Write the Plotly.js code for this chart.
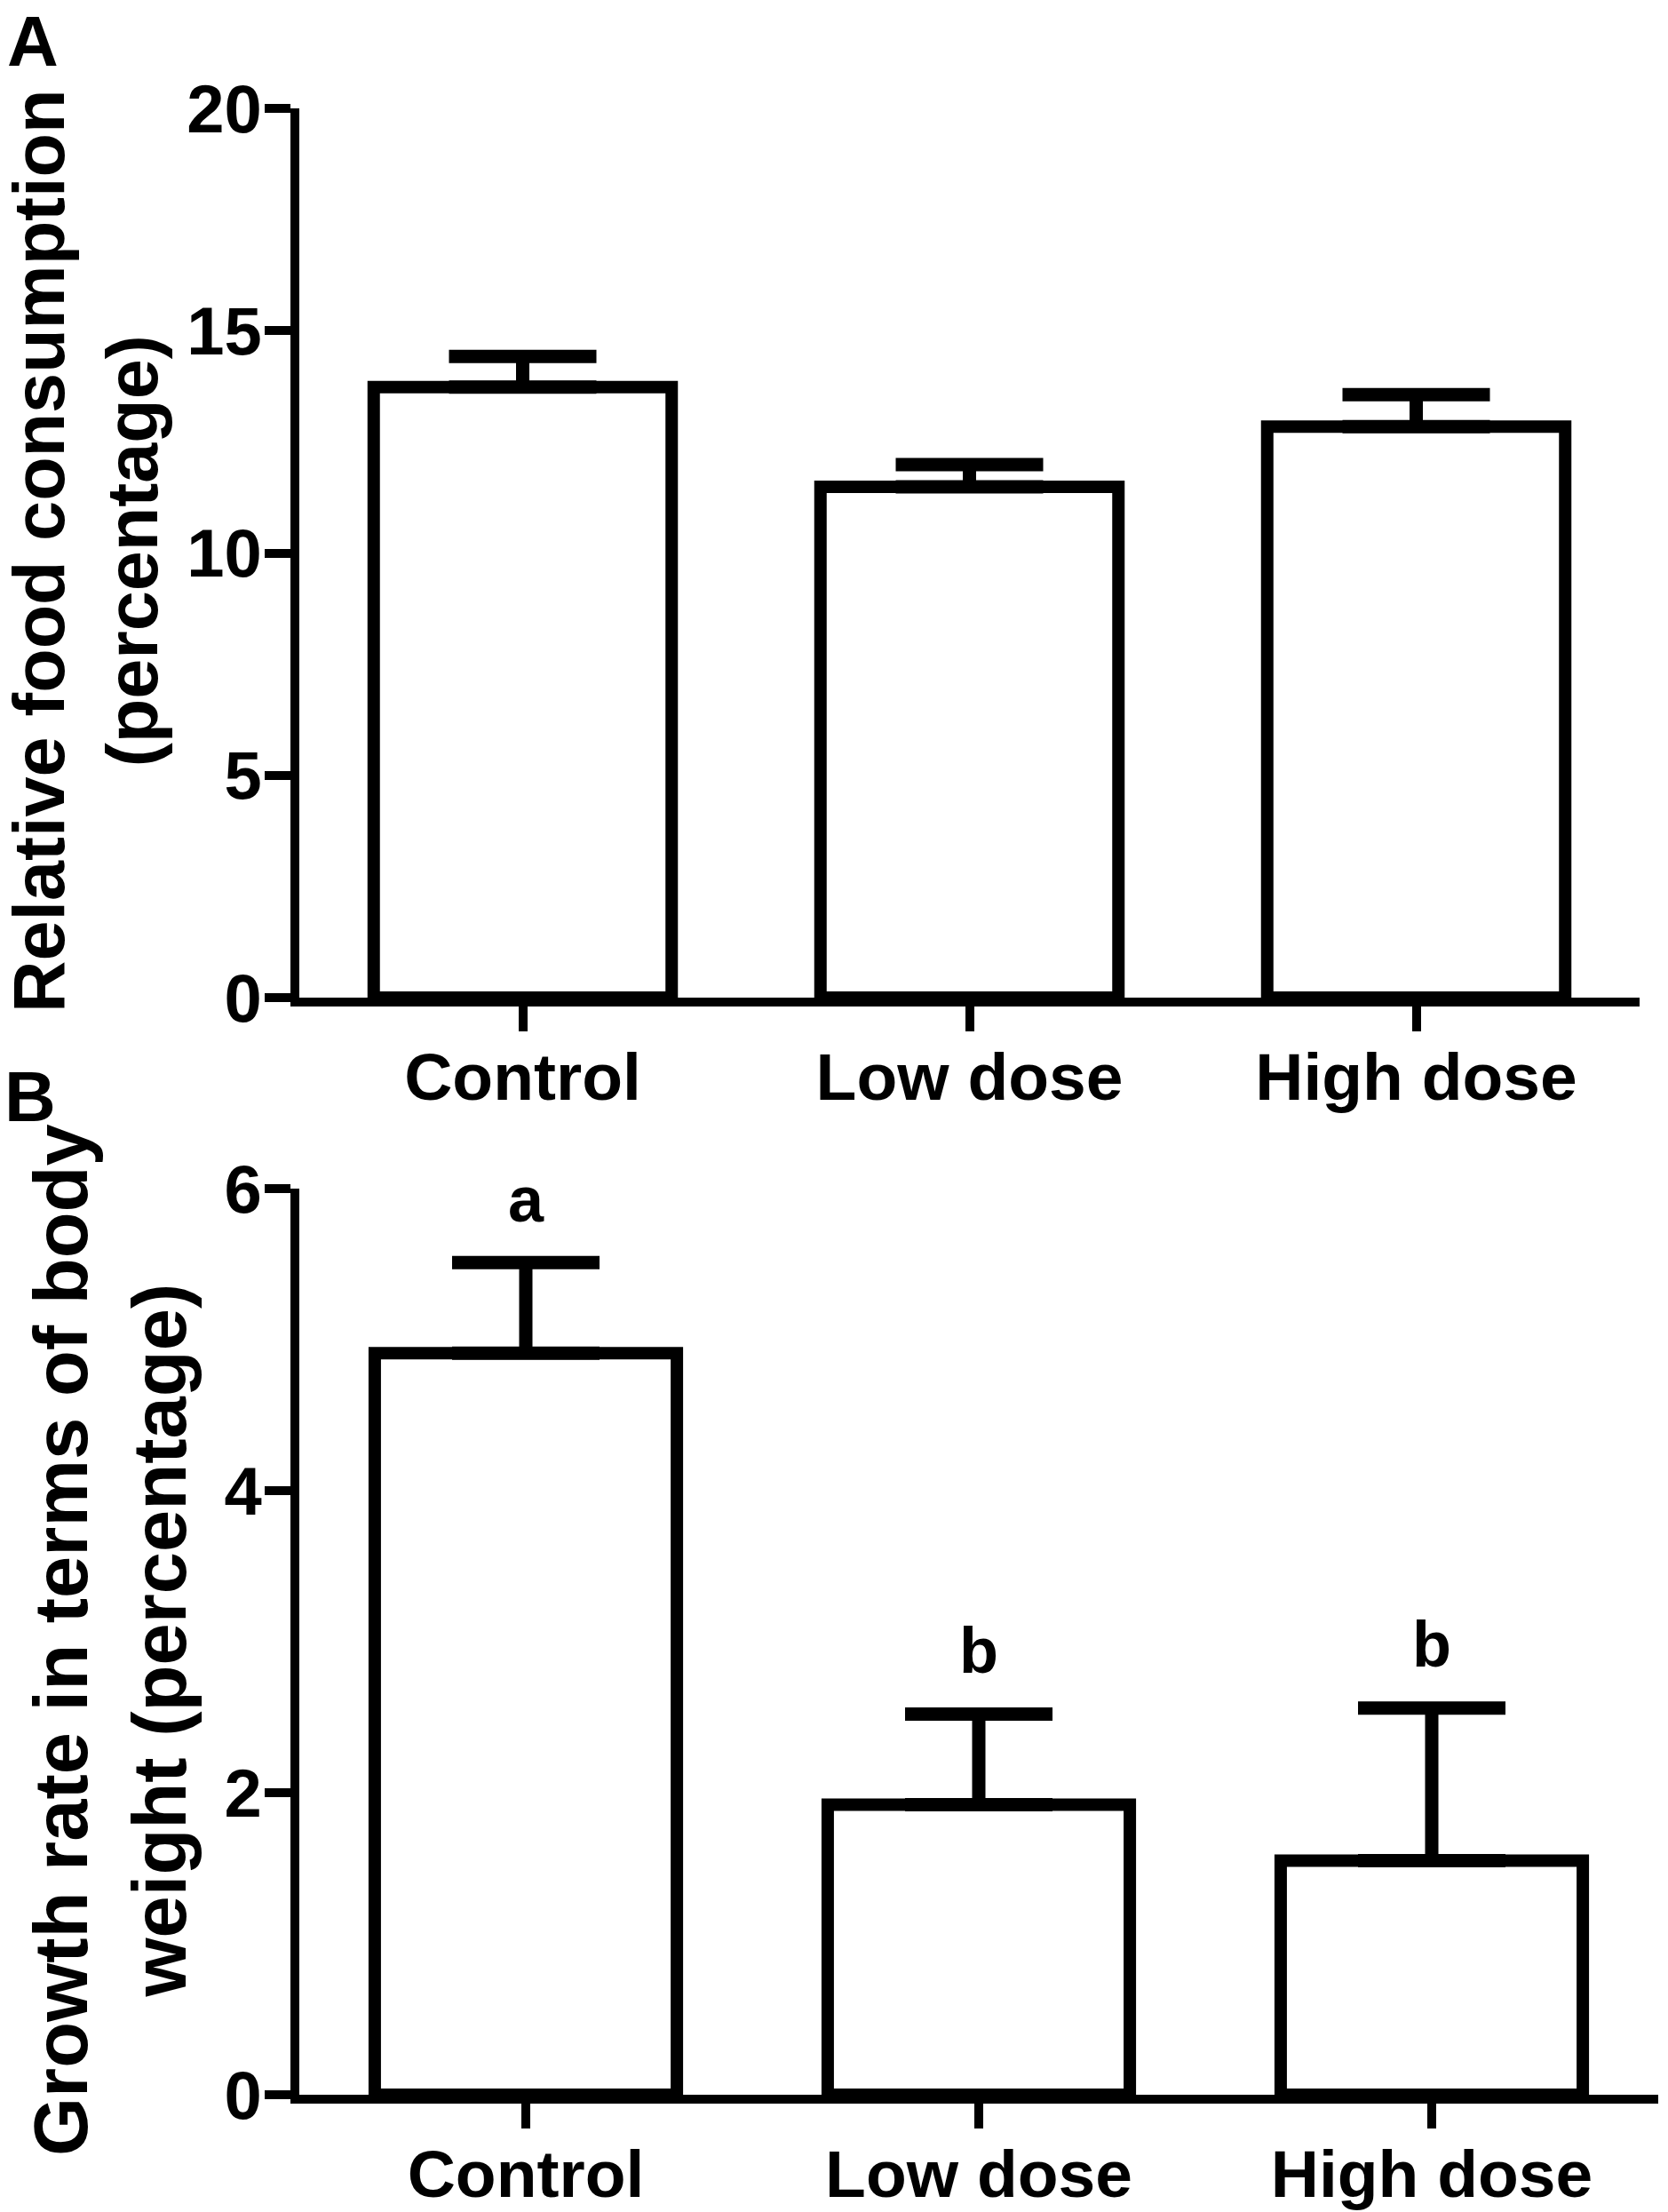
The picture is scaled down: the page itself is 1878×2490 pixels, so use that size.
<!DOCTYPE html>
<html>
<head>
<meta charset="utf-8">
<script src="https://cdn.plot.ly/plotly-3.0.1.min.js"></script>
<style>
  html, body { margin: 0; padding: 0; background: #fff; }
  #plot { width: 1878px; height: 2490px; }
</style>
</head>
<body>
<div id="plot"></div>
<script>
const groups = ["Control", "Low dose", "High dose"];

// A: relative food consumption (%)
const foodMean = [13.73, 11.49, 12.84];
const foodErr = [0.69, 0.5, 0.72];

// B: growth rate in terms of body weight (%)
const growthMean = [4.91, 1.92, 1.55];
const growthErr = [0.6, 0.6, 1.01];
const growthLetters = ["a", "b", "b"];

const W = 1878, H = 2490;
const FONT = "Liberation Sans, Arial, Helvetica, sans-serif";
const px = (x) => x / W;
const py = (y) => 1 - y / H;

function barTrace(y, err, xa, ya) {
  return {
    type: "bar",
    x: groups,
    y: y,
    xaxis: xa,
    yaxis: ya,
    width: 0.667,
    marker: { color: "#fff", line: { color: "#000", width: 14 } },
    error_y: {
      type: "data",
      symmetric: false,
      array: err,
      arrayminus: err.map(() => 0),
      color: "#000",
      thickness: 15,
      width: 83,
    },
    hoverinfo: "skip",
  };
}

const tickFont = { family: FONT, size: 76, color: "#000", weight: "bold" };

function xAxis(domain, anchor) {
  return {
    domain: domain,
    range: [-0.5, 2.5],
    anchor: anchor,
    type: "category",
    showline: true,
    linewidth: 10,
    linecolor: "#000",
    ticks: "outside",
    ticklen: 28,
    tickwidth: 10,
    tickcolor: "#000",
    showgrid: false,
    zeroline: false,
    tickfont: { ...tickFont, size: 75 },
    ticklabelstandoff: -13,
    fixedrange: true,
  };
}

function yAxis(domain, range, dtick, anchor) {
  return {
    domain: domain,
    range: range,
    anchor: anchor,
    dtick: dtick,
    tick0: 0,
    showline: true,
    linewidth: 10,
    linecolor: "#000",
    ticks: "outside",
    ticklen: 29,
    tickwidth: 10,
    tickcolor: "#000",
    showgrid: false,
    zeroline: false,
    tickfont: tickFont,
    ticklabelstandoff: -12,
    fixedrange: true,
  };
}

const data = [
  barTrace(foodMean, foodErr, "x", "y"),
  barTrace(growthMean, growthErr, "x2", "y2"),
];

const annotations = [
  { text: "A", x: px(37), y: py(0) },
  { text: "B", x: px(34), y: py(1188) },
].map((a) => ({
  ...a,
  xref: "paper",
  yref: "paper",
  xanchor: "center",
  yanchor: "top",
  showarrow: false,
  font: { family: FONT, size: 80, color: "#000", weight: "bold" },
}));

// y-axis titles, drawn rotated
[
  { text: "Relative food consumption<br>(percentage)", x: px(96), y: py(620), size: 81 },
  { text: "Growth rate in terms of body<br>weight (percentage)", x: px(124), y: py(1846), size: 85 },
].forEach((t) => {
  annotations.push({
    text: t.text,
    x: t.x,
    y: t.y,
    xref: "paper",
    yref: "paper",
    xanchor: "center",
    yanchor: "middle",
    textangle: -90,
    showarrow: false,
    font: { family: FONT, size: t.size, color: "#000", weight: "bold" },
  });
});

growthLetters.forEach((t, i) => {
  annotations.push({
    text: t,
    x: groups[i],
    y: growthMean[i] + growthErr[i] + 0.42,
    xref: "x2",
    yref: "y2",
    xanchor: "center",
    yanchor: "middle",
    showarrow: false,
    font: { family: FONT, size: 72, color: "#000", weight: "bold" },
  });
});

const layout = {
  width: W,
  height: H,
  margin: { l: 0, r: 0, t: 0, b: 0 },
  paper_bgcolor: "#fff",
  plot_bgcolor: "#fff",
  showlegend: false,
  xaxis: xAxis([px(337), px(1846)], "y"),
  yaxis: yAxis([py(1123), py(122)], [0, 20], 5, "x"),
  xaxis2: xAxis([px(337), px(1867)], "y2"),
  yaxis2: yAxis([py(2358), py(1338)], [0, 6], 2, "x2"),
  annotations: annotations,
};

Plotly.newPlot("plot", data, layout, { displayModeBar: false, staticPlot: true });
</script>
</body>
</html>
